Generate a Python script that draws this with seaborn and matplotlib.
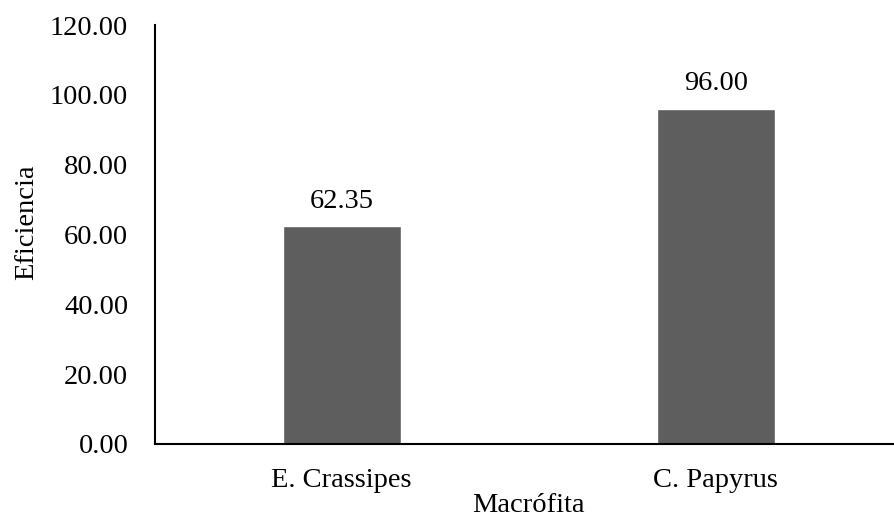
import matplotlib
matplotlib.use("Agg")
import matplotlib.pyplot as plt
import seaborn as sns
import pandas as pd

categories = ["E. Crassipes", "C. Papyrus"]
values = [62.35, 96.00]
yticks = [0, 20, 40, 60, 80, 100, 120]

sns.set_theme(style="white")
plt.rcParams['font.family'] = ['Liberation Serif', 'DejaVu Serif']
plt.rcParams['text.color'] = 'black'
plt.rcParams['axes.labelcolor'] = 'black'
plt.rcParams['xtick.color'] = 'black'
plt.rcParams['ytick.color'] = 'black'

FS = 20.5

df = pd.DataFrame({"Macrófita": categories, "Eficiencia": values})

fig = plt.figure(figsize=(8.94, 5.21), dpi=100)
ax = fig.add_axes([0.173, 0.148, 0.837, 0.804])
sns.barplot(data=df, x="Macrófita", y="Eficiencia", color="#5e5e5e",
            width=0.315, saturation=1, ax=ax)
ax.set_xlim(-0.5, 1.5)
ax.set_ylim(0, 120)
ax.set_yticks(yticks)
ax.set_yticklabels([f"{v:.2f}" for v in yticks], fontsize=FS)
ax.tick_params(axis='x', labelsize=FS, length=0, pad=17)
ax.tick_params(axis='y', length=0, pad=19)
for s in ["top", "right"]:
    ax.spines[s].set_visible(False)
for s in ["left", "bottom"]:
    ax.spines[s].set_color("black")
    ax.spines[s].set_linewidth(1.5)
ax.set_xlabel("Macrófita", fontsize=FS, labelpad=0)
ax.set_ylabel("Eficiencia", fontsize=FS, labelpad=8)
ax.yaxis.label.set_y(0.53)
for c in ax.containers:
    ax.bar_label(c, labels=[f"{v:.2f}" for v in values], fontsize=FS, padding=9, color="black")
fig.savefig("out.png", dpi=100)
